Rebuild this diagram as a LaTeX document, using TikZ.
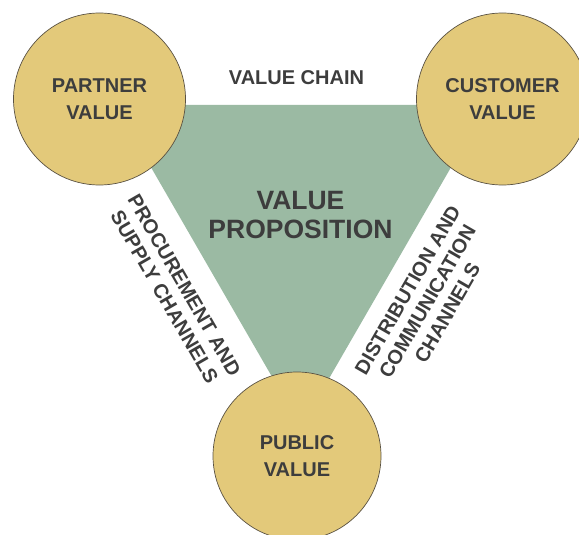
\documentclass[tikz,border=0pt]{standalone}
\usepackage{fontspec}
\setmainfont{Liberation Sans}
\usetikzlibrary{positioning}
\definecolor{valuegold}{HTML}{E3C97A}
\definecolor{valuegreen}{HTML}{9BBAA3}
\definecolor{valuetext}{HTML}{3D3D3D}
\definecolor{valueline}{HTML}{5A5243}

\begin{document}
\begin{tikzpicture}[
                x=1pt,y=-1pt,
                every node/.append style={text=valuetext,align=center,inner sep=0pt,
                    font=\fontsize{20}{27}\selectfont\bfseries},
                party/.style={circle,draw=valueline,line width=0.7pt,fill=valuegold,minimum size=172pt},
                channel/.style={font=\fontsize{20}{23}\selectfont\bfseries}
            ]
                \useasboundingbox (0,0) rectangle (579,535);
                % the value triangle
                \coordinate (TL) at (115,105);
                \coordinate (TR) at (487,105);
                \coordinate (TB) at (301,427);
                \fill[valuegreen] (TL) -- (TR) -- (TB) -- cycle;
                \node (partner)  [party]                    at (99.5,99)  {PARTNER\\VALUE};
                \node (customer) [party]                    at (502.5,99) {CUSTOMER\\VALUE};
                \node (public)   [party,minimum size=168pt] at (297,456)  {PUBLIC\\VALUE};
                \node (chain)                               at (296.5,77.5) {VALUE CHAIN};
                \node (prop) [font=\fontsize{26.5}{29}\selectfont\bfseries] at (300.5,215.5) {VALUE\\PROPOSITION};
                \node (supply) [channel,rotate=-60] at (174.5,291)   {PROCUREMENT AND\\SUPPLY CHANNELS};
                \node (distr)  [channel,rotate=60]  at (427.5,301.5) {DISTRIBUTION AND\\COMMUNICATION\\CHANNELS};
            \end{tikzpicture}
\end{document}
